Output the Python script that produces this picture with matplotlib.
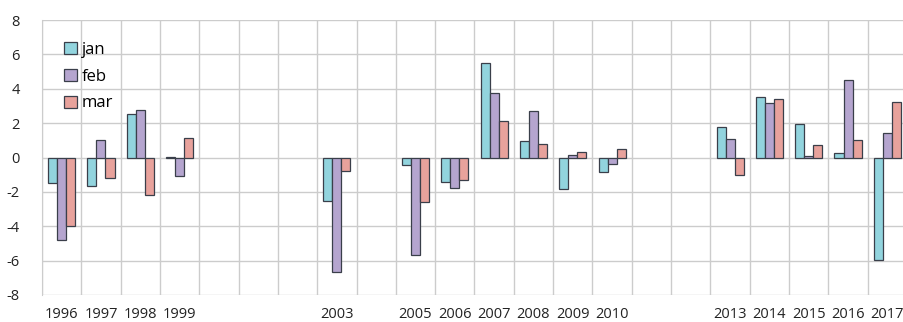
"""
Monthly anomaly bars (jan / feb / mar) per year, 1996-2017.
Years without data keep their slot on the category axis but stay empty.
"""

import matplotlib

matplotlib.use("Agg")
import matplotlib.pyplot as plt
import numpy as np

nan = np.nan

years = list(range(1996, 2018))
jan = [-1.5, -1.65, 2.55, 0.05, nan, nan, nan, -2.55, nan, -0.45, -1.45, 5.5,
       0.95, -1.85, -0.85, nan, nan, 1.75, 3.5, 1.95, 0.25, -5.95]
feb = [-4.8, 1.0, 2.75, -1.1, nan, nan, nan, -6.65, nan, -5.7, -1.75, 3.75,
       2.7, 0.15, -0.4, nan, nan, 1.1, 3.15, 0.1, 4.5, 1.4]
mar = [-4.0, -1.2, -2.2, 1.15, nan, nan, nan, -0.8, nan, -2.6, -1.3, 2.15,
       0.8, 0.3, 0.5, nan, nan, -1.0, 3.4, 0.7, 1.0, 3.25]
series = {"jan": jan, "feb": feb, "mar": mar}
colors = {"jan": "#92d4de", "feb": "#b5a5cf", "mar": "#e8a29c"}
labeled_years = [y for y, a, b, c in zip(years, jan, feb, mar)
                 if not (np.isnan(a) and np.isnan(b) and np.isnan(c))]


def main() -> None:
    plt.rcParams["font.family"] = ["Open Sans", "DejaVu Sans"]
    plt.rcParams["axes.unicode_minus"] = False
    fig = plt.figure(figsize=(9.04, 3.22), dpi=100)
    ax = fig.add_axes([42 / 904, 27 / 322, 865 / 904, 275 / 322])

    x = np.arange(len(years))
    width = 0.23
    for i, (name, vals) in enumerate(series.items()):
        ax.bar(x + (i - 1) * width, vals, width, color=colors[name],
               edgecolor="#3a3f4a", linewidth=0.9, label=name, zorder=3)

    ax.set_xlim(-0.5, len(years) - 0.5)
    ax.set_ylim(-8, 8)
    ax.set_yticks(range(-8, 9, 2))
    ax.set_xticks([years.index(y) for y in labeled_years])
    ax.set_xticklabels([str(y) for y in labeled_years])
    ax.set_xticks(np.arange(-0.5, len(years), 1), minor=True)
    ax.tick_params(which="both", length=0, labelsize=10.5, colors="#222222")
    ax.tick_params(axis="x", pad=9)
    ax.tick_params(axis="y", pad=16)

    ax.grid(axis="y", color="#cccccc", linewidth=1.0, zorder=0)
    ax.grid(axis="x", which="minor", color="#cccccc", linewidth=1.0, zorder=0)
    ax.grid(axis="x", which="major", visible=False)
    for side, spine in ax.spines.items():
        spine.set_visible(side == "left")
        spine.set_color("#cccccc")

    ax.legend(loc="upper left", bbox_to_anchor=(0.018, 0.945), frameon=False,
              fontsize=12, handlelength=0.75, handleheight=0.75,
              handletextpad=0.3, labelspacing=0.65, borderaxespad=0)

    fig.savefig("out.png", dpi=100)
    plt.close(fig)


if __name__ == "__main__":
    main()
